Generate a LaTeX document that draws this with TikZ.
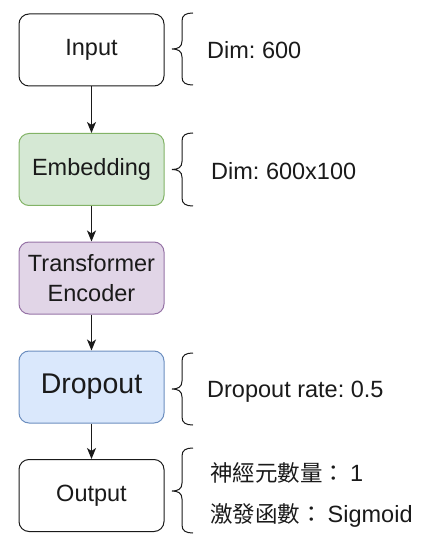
\documentclass[tikz,border=0pt]{standalone}
\usepackage{fontspec}
\setmainfont{Liberation Sans}
\newfontfamily\cjk{Noto Sans CJK TC}
\usetikzlibrary{arrows.meta}
\frenchspacing

\definecolor{embfill}{HTML}{D5E8D4}
\definecolor{embline}{HTML}{82B366}
\definecolor{trffill}{HTML}{E1D5E7}
\definecolor{trfline}{HTML}{9673A6}
\definecolor{drpfill}{HTML}{DAE8FC}
\definecolor{drpline}{HTML}{6C8EBF}
\definecolor{ink}{HTML}{1A1A1A}

% curly bracket opening to the right: #1 top y, #2 bottom y, #3 tip y
\newcommand{\leftcurly}[3]{%
  \draw[bracket] (193,#1) .. controls (186,#1) and (182,#1+2) .. (182,#1+8)
    -- (182,#3-8) .. controls (182,#3-2) and (178,#3) .. (172,#3)
    .. controls (178,#3) and (182,#3+2) .. (182,#3+8)
    -- (182,#2-8) .. controls (182,#2-2) and (186,#2) .. (193,#2);}

\begin{document}
\begin{tikzpicture}[x=1pt,y=-1pt,
  layer/.style={draw=ink, line width=1pt, rounded corners=10pt,
    minimum width=145pt, minimum height=72pt, align=center,
    text=ink, font=\fontsize{23.5}{28}\selectfont, inner sep=0pt},
  flow/.style={draw=ink, line width=1pt,
    -{Stealth[length=11pt,width=9pt,inset=3pt]}},
  bracket/.style={draw=ink, line width=1pt},
  note/.style={anchor=west, text=ink, inner sep=0pt,
    font=\fontsize{23.5}{28}\selectfont}]
  \useasboundingbox (0,0) rectangle (421,534);

  % main stack of layers
  \node[layer, fill=white] (inp) at (91.5,50) {Input};
  \node[layer, fill=embfill, draw=embline] (emb) at (91.5,169.5) {Embedding};
  \node[layer, fill=trffill, draw=trfline] (trf) at (91.5,278)
    {Transformer\\[2pt]Encoder};
  \node[layer, fill=drpfill, draw=drpline,
    font=\fontsize{28.5}{33}\selectfont] (drp) at (91.5,387) {Dropout};
  \node[layer, fill=white] (out) at (91.5,495.5) {Output};

  \draw[flow] (inp) -- (emb);
  \draw[flow] (emb) -- (trf);
  \draw[flow] (trf) -- (drp);
  \draw[flow] (drp) -- (out);

  % parameter brackets
  \leftcurly{13}{85}{49}
  \leftcurly{133}{206}{169.5}
  \leftcurly{353}{425}{389}
  \leftcurly{448}{533}{491}

  \node[note] (n1) at (207,50) {Dim: 600};
  \node[note] (n2) at (211,171) {Dim: 600x100};
  \node[note] (n3) at (207,392) {Dropout rate: 0.5};
  \node[note] (n4) at (210,473)
    {{\cjk\fontsize{22.5}{28}\selectfont 神經元數量：}\hspace{5pt}1};
  \node[note] (n5) at (210,515)
    {{\cjk\fontsize{22.5}{28}\selectfont 激發函數：}\hspace{5pt}Sigmoid};
\end{tikzpicture}
\end{document}
